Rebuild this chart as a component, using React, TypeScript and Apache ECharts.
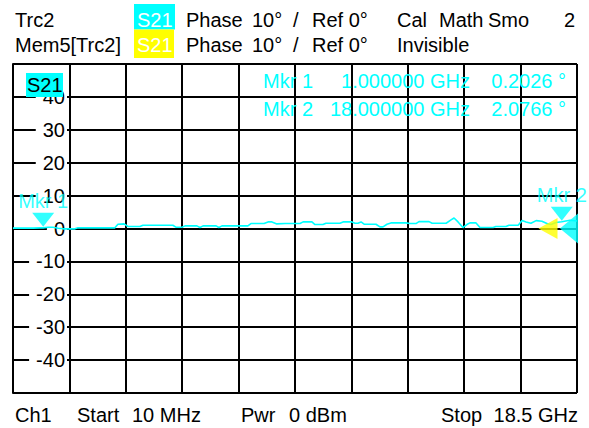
import React, { useEffect, useRef } from "react";
import * as echarts from "echarts";

const CYAN = "#00ffff";
const YELLOW = "#ffff00";
const FONT = '20px "Liberation Sans", Arial, sans-serif';

// Frequency axis (GHz)
const startGHz = 0.01;
const stopGHz = 18.5;
const divisions = 10;

// Phase axis (deg)
const yMin = -50;
const yMax = 50;
const yStep = 10;

// Trace Trc2 (S21 phase, deg) vs frequency (GHz)
const traceFreq = [
  0.01, 0.67, 0.89, 1.0, 1.16, 1.32, 1.49, 1.65, 2.04, 2.14, 3.35, 3.45, 3.65, 3.78, 4.17, 4.27,
  5.25, 5.35, 5.55, 5.65, 6.04, 6.14, 6.24, 6.67, 6.76, 6.86, 7.71, 7.81, 8.24, 8.37, 8.5, 8.66,
  8.93, 9.42, 9.52, 9.81, 9.91, 10.17, 10.27, 10.73, 10.83, 11.12, 11.22, 11.32, 11.42, 11.52,
  11.91, 12.04, 12.14, 12.27, 12.4, 12.89, 13.02, 13.22, 13.32, 13.65, 13.75, 14.21, 14.37, 14.47,
  14.6, 14.76, 14.89, 14.99, 15.19, 15.32, 15.75, 15.84, 16.17, 16.27, 16.57, 16.7, 16.83, 16.99,
  17.16, 17.35, 17.55, 17.65, 17.81, 18.0, 18.27, 18.5,
];
const tracePhase = [
  0.1, 0.1, 0.2, 0.2026, 0.4, 0.4, 0.1, -0.1, -0.1, 0.2, 0.2, 1.3, 1.4, 0.6, 0.6, 1.0,
  1.0, 0.4, 0.4, 0.8, 0.8, 0.3, 0.8, 0.8, 0.3, 0.8, 0.8, 1.5, 1.5, 2.0, 2.0, 1.4,
  1.5, 1.5, 2.0, 2.0, 1.2, 1.2, 1.6, 1.6, 2.0, 2.0, 1.6, 1.6, 2.0, 1.3,
  1.3, 0.5, 0.5, 1.3, 1.7, 1.7, 1.5, 1.5, 2.1, 2.1, 1.6, 1.6, 2.6, 3.2,
  2.0, 0.3, 1.2, 1.7, 1.7, 0.3, 0.3, 0.6, 0.6, 1.0, 1.0, 2.4, 2.0, 1.6,
  2.4, 2.2, 1.4, 1.2, 1.8, 2.0766, 2.5, 2.3,
];

// Markers
const markerNames = ["Mkr 1", "Mkr 2"];
const markerFreqs = [1.0, 18.0];
const markerVals = [0.2026, 2.0766];

// Reference level indicators (trace, memory)
const refLevel = 0;

// Header / footer texts
const headerRow1 = ["Trc2", "S21", "Phase", "10°", "/", "Ref 0°", "Cal", "Math", "Smo", "2"];
const headerRow2 = ["Mem5[Trc2]", "S21", "Phase", "10°", "/", "Ref 0°", "Invisible"];
const footer = ["Ch1", "Start", "10 MHz", "Pwr", "0 dBm", "Stop", "18.5 GHz"];

function txt(x: number, y: number, text: string, fill = "#000", align = "left") {
  return {
    type: "text",
    x,
    y,
    z: 20,
    style: { text, fill, font: FONT, textAlign: align, textVerticalAlign: "middle" },
  };
}

export default function App() {
  const ref = useRef<HTMLDivElement>(null);
  useEffect(() => {
    if (!ref.current) return;
    const chart = echarts.init(ref.current, null, { renderer: "svg" });
    const r1 = 19.8;
    const r2 = 44.8;
    const rf = 414.6;
    const graphic: any[] = [
      // header row 1
      txt(15, r1, headerRow1[0]),
      { type: "rect", z: 19, shape: { x: 134, y: 4, width: 41, height: 25.5 }, style: { fill: CYAN } },
      txt(137, r1, headerRow1[1], "#fff"),
      txt(186, r1, headerRow1[2]),
      txt(252, r1, headerRow1[3]),
      txt(293, r1, headerRow1[4]),
      txt(312, r1, headerRow1[5]),
      txt(397, r1, headerRow1[6]),
      txt(439, r1, headerRow1[7]),
      txt(488, r1, headerRow1[8]),
      txt(575, r1, headerRow1[9], "#000", "right"),
      // header row 2
      txt(15, r2, headerRow2[0]),
      { type: "rect", z: 19, shape: { x: 134, y: 29.5, width: 40, height: 28.5 }, style: { fill: YELLOW } },
      txt(137, r2, headerRow2[1], "#fff"),
      txt(186, r2, headerRow2[2]),
      txt(252, r2, headerRow2[3]),
      txt(293, r2, headerRow2[4]),
      txt(312, r2, headerRow2[5]),
      txt(397, r2, headerRow2[6]),
      // in-plot trace label
      { type: "rect", z: 19, shape: { x: 26, y: 73, width: 37, height: 24 }, style: { fill: CYAN } },
      txt(27, 85, "S21"),
      // marker readouts
      ...markerNames.flatMap((n, i) => {
        const y = 80.5 + i * 28.5;
        return [
          txt(263, y, n, CYAN),
          txt(470, y, markerFreqs[i].toFixed(6) + " GHz", CYAN, "right"),
          txt(566, y, markerVals[i].toFixed(4) + " °", CYAN, "right"),
        ];
      }),
      // footer
      txt(15, rf, footer[0]),
      txt(77, rf, footer[1]),
      txt(132, rf, footer[2]),
      txt(241, rf, footer[3]),
      txt(289, rf, footer[4]),
      txt(441, rf, footer[5]),
      txt(578, rf, footer[6], "#000", "right"),
    ];

    const gridLine = { color: "#000", width: 2 };
    chart.setOption({
      animation: false,
      backgroundColor: "#fff",
      grid: { left: 13, right: 12, top: 64, bottom: 35, containLabel: false },
      xAxis: [
        {
          type: "value",
          min: 0,
          max: divisions,
          interval: 1,
          position: "bottom",
          axisLabel: { show: false },
          axisLine: { show: true, lineStyle: gridLine },
          axisTick: { show: true, length: 3, lineStyle: gridLine },
          splitLine: { show: true, lineStyle: gridLine },
        },
        {
          type: "value",
          min: startGHz,
          max: stopGHz,
          show: false,
          splitLine: { show: false },
        },
      ],
      yAxis: [
        {
          type: "value",
          min: yMin,
          max: yMax,
          interval: yStep,
          position: "left",
          axisLabel: { show: false },
          axisLine: { show: true, lineStyle: gridLine },
          axisTick: { show: false },
          splitLine: { show: true, lineStyle: gridLine },
          z: 0,
        },
        {
          type: "value",
          min: yMin,
          max: yMax,
          interval: yStep,
          position: "left",
          offset: 0,
          z: 1,
          axisLine: { show: false },
          axisTick: { show: false },
          splitLine: { show: false },
          axisLabel: {
            show: true,
            margin: -54,
            color: "#000",
            fontSize: 20,
            fontFamily: '"Liberation Sans", Arial, sans-serif',
            backgroundColor: "#fff",
            padding: [0, 2, 0, 7],
            formatter: (v: number) => (v === yMin || v === yMax ? "" : String(v)),
          },
        },
      ],
      series: [
        {
          type: "line",
          xAxisIndex: 1,
          yAxisIndex: 0,
          data: traceFreq.map((f, i) => [f, tracePhase[i]]),
          symbol: "none",
          lineStyle: { color: CYAN, width: 1.6 },
          z: 3,
        },
        {
          type: "scatter",
          xAxisIndex: 1,
          yAxisIndex: 0,
          clip: false,
          data: [[stopGHz, refLevel]],
          symbol: "path://M10,0 L10,10 L0,5 Z",
          symbolSize: [19, 21],
          symbolOffset: [-29, 0],
          itemStyle: { color: YELLOW },
          z: 4,
        },
        {
          type: "scatter",
          xAxisIndex: 1,
          yAxisIndex: 0,
          clip: false,
          data: [[stopGHz, refLevel]],
          symbol: "path://M10,0 L10,10 L0,5 Z",
          symbolSize: [18, 30],
          symbolOffset: [-8, 0],
          itemStyle: { color: CYAN },
          z: 5,
        },
        {
          type: "scatter",
          xAxisIndex: 1,
          yAxisIndex: 0,
          clip: false,
          data: markerNames.map((n, i) => ({ name: n, value: [markerFreqs[i], markerVals[i]] })),
          symbol: "path://M0,0 L10,0 L5,10 Z",
          symbolSize: [22, 14],
          symbolOffset: [0, -8],
          itemStyle: { color: CYAN },
          label: {
            show: true,
            position: "top",
            distance: 2,
            formatter: (p: any) => p.name,
            color: CYAN,
            fontSize: 20,
            fontFamily: '"Liberation Sans", Arial, sans-serif',
          },
          z: 6,
        },
      ],
      graphic,
    });
    return () => chart.dispose();
  }, []);
  return (
    <div
      ref={ref}
      style={{ position: "fixed", left: 0, top: 0, width: 589, height: 428, background: "#fff" }}
    />
  );
}
